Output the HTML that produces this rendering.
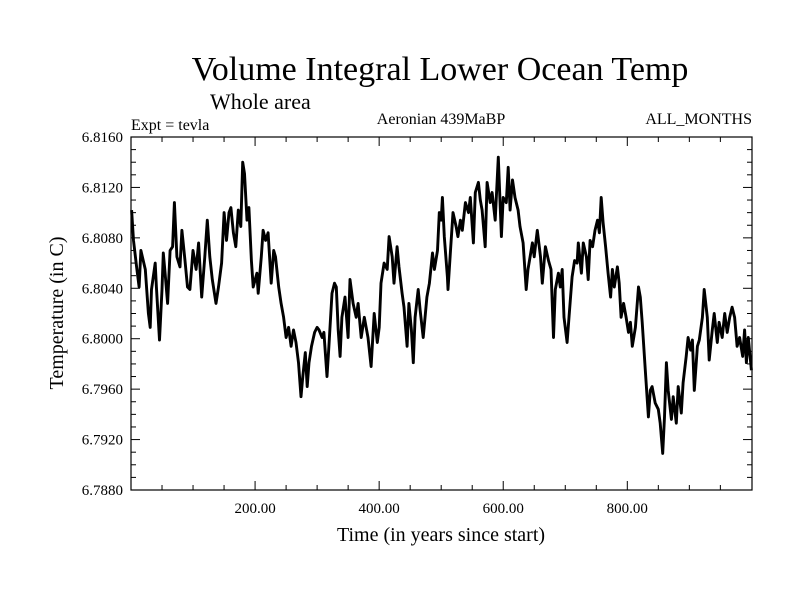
<!DOCTYPE html>
<html><head><meta charset="utf-8"><style>
body{margin:0;background:#fff}
svg text{font-family:"Liberation Serif",serif;fill:#000}
</style></head><body>
<svg id="chart" width="800" height="600" xmlns="http://www.w3.org/2000/svg">
<rect width="800" height="600" fill="#fff"/>
<text x="440" y="80" font-size="34" text-anchor="middle">Volume Integral Lower Ocean Temp</text>
<text x="210" y="109" font-size="22">Whole area</text>
<text x="131" y="130" font-size="16">Expt = tevla</text>
<text x="441" y="124" font-size="16" text-anchor="middle">Aeronian 439MaBP</text>
<text x="752" y="124" font-size="16" text-anchor="end">ALL_MONTHS</text>
<text transform="translate(63,313) rotate(-90)" font-size="20" text-anchor="middle">Temperature (in C)</text>
<text x="441" y="541" font-size="20" text-anchor="middle">Time (in years since start)</text>
<g id="axes"></g>
<path id="series" fill="none" stroke="#000" stroke-width="2.9" stroke-linejoin="round"/>
</svg>
<script>
const years=[1,4,9,13,16,23,28,31,33,39,41,46,50,52,55,59,63,67,70,74,79,82,87,91,95,100,105,109,114,119,123,127,131,137,141,146,150,154,158,161,165,169,173,177,180,183,187,190,194,197,203,205,210,213,217,221,226,230,233,238,242,246,250,254,258,262,266,270,274,277,281,284,287,291,296,300,303,308,311,316,319,324,328,331,334,337,340,345,350,353,358,363,366,371,376,382,387,392,397,400,403,408,413,416,421,424,429,432,437,440,445,448,452,455,458,463,466,471,477,481,486,489,494,497,500,502,505,510,511,515,519,524,527,531,534,539,544,547,552,555,560,563,566,571,574,579,582,587,592,597,600,605,608,611,615,619,624,627,632,637,640,647,650,655,660,663,668,673,677,681,684,689,692,695,698,703,706,711,715,719,721,726,729,734,737,740,744,748,752,755,758,761,765,769,773,776,779,784,787,790,794,798,802,805,808,813,818,821,824,829,834,837,840,845,850,853,857,860,863,866,871,874,879,882,887,890,895,898,902,905,908,913,916,921,924,929,932,937,940,945,948,953,957,961,965,969,973,977,981,986,989,992,995,1000];
const temps=[6.8102,6.8078,6.8057,6.8041,6.8070,6.8055,6.8020,6.8009,6.8039,6.8060,6.8041,6.7999,6.8039,6.8068,6.8052,6.8028,6.8070,6.8073,6.8108,6.8065,6.8057,6.8086,6.8062,6.8041,6.8039,6.8070,6.8055,6.8076,6.8033,6.8065,6.8094,6.8065,6.8047,6.8028,6.8041,6.8060,6.8100,6.8078,6.8100,6.8104,6.8084,6.8073,6.8102,6.8089,6.8140,6.8131,6.8094,6.8104,6.8062,6.8041,6.8052,6.8036,6.8065,6.8086,6.8078,6.8084,6.8044,6.8070,6.8065,6.8041,6.8028,6.8017,6.8001,6.8009,6.7994,6.8007,6.7997,6.7981,6.7954,6.7970,6.7989,6.7962,6.7981,6.7994,6.8005,6.8009,6.8007,6.8001,6.8005,6.7970,6.7994,6.8036,6.8044,6.8041,6.8007,6.7986,6.8017,6.8033,6.8001,6.8047,6.8028,6.8017,6.8028,6.8001,6.8017,6.8001,6.7978,6.8020,6.7997,6.8009,6.8044,6.8060,6.8055,6.8081,6.8065,6.8044,6.8073,6.8057,6.8036,6.8025,6.7994,6.8028,6.8007,6.7981,6.8017,6.8039,6.8023,6.8001,6.8033,6.8044,6.8068,6.8055,6.8070,6.8100,6.8094,6.8112,6.8081,6.8049,6.8039,6.8070,6.8100,6.8089,6.8081,6.8094,6.8086,6.8108,6.8100,6.8112,6.8076,6.8116,6.8124,6.8110,6.8102,6.8073,6.8124,6.8108,6.8116,6.8094,6.8144,6.8081,6.8112,6.8108,6.8136,6.8102,6.8126,6.8112,6.8102,6.8089,6.8076,6.8039,6.8055,6.8076,6.8065,6.8086,6.8065,6.8044,6.8073,6.8062,6.8055,6.8001,6.8039,6.8052,6.8041,6.8055,6.8017,6.7997,6.8017,6.8049,6.8062,6.8060,6.8076,6.8052,6.8076,6.8065,6.8047,6.8078,6.8073,6.8086,6.8094,6.8084,6.8112,6.8092,6.8073,6.8052,6.8033,6.8055,6.8041,6.8057,6.8044,6.8017,6.8028,6.8017,6.8005,6.8013,6.7994,6.8009,6.8041,6.8033,6.8013,6.7975,6.7938,6.7959,6.7962,6.7949,6.7944,6.7933,6.7909,6.7938,6.7981,6.7959,6.7936,6.7954,6.7933,6.7962,6.7941,6.7965,6.7986,6.8001,6.7991,6.7999,6.7959,6.7994,6.7999,6.8017,6.8039,6.8017,6.7983,6.8007,6.8020,6.7997,6.8013,6.8001,6.8020,6.8005,6.8017,6.8025,6.8017,6.7994,6.8001,6.7986,6.8007,6.7981,6.8001,6.7975];
const yTickLabels=["6.7880","6.7920","6.7960","6.8000","6.8040","6.8080","6.8120","6.8160"];
const xTickLabels=["200.00","400.00","600.00","800.00"];

const L=131,R=752,T=137,B=490,X0=0,X1=1001,Y0=6.788,Y1=6.816;
const sx=v=>L+(v-X0)/(X1-X0)*(R-L);
const sy=v=>B-(v-Y0)/(Y1-Y0)*(B-T);
const NS="http://www.w3.org/2000/svg";
const axes=document.getElementById('axes');
function mk(tag,attrs){const e=document.createElementNS(NS,tag);for(const k in attrs)e.setAttribute(k,attrs[k]);axes.appendChild(e);return e;}
const frame=mk('rect',{x:L,y:T,width:R-L,height:B-T,fill:'none',stroke:'#000','stroke-width':1.2});


for(let i=0;i<=28;i++){
  const v=Y0+i*0.001,y=sy(v),len=(i%4===0)?9:5;
  const t1=mk('line',{x1:L,x2:L+len,y1:y,y2:y,stroke:'#000','stroke-width':1});
  
  
  const t2=mk('line',{x1:R,x2:R-len,y1:y,y2:y,stroke:'#000','stroke-width':1});
  
  
}
yTickLabels.forEach(s=>{
  const t=mk('text',{x:123,y:sy(parseFloat(s))+5,'font-size':15,'text-anchor':'end'});
  t.textContent=s;
  
  
});
for(let v=50;v<1000;v+=50){
  const x=sx(v),len=(v%200===0)?9:5;
  const t1=mk('line',{x1:x,x2:x,y1:B,y2:B-len,stroke:'#000','stroke-width':1});
  
  
  const t2=mk('line',{x1:x,x2:x,y1:T,y2:T+len,stroke:'#000','stroke-width':1});
  
  
}
xTickLabels.forEach(s=>{
  const t=mk('text',{x:sx(parseFloat(s)),y:513,'font-size':15,'text-anchor':'middle'});
  t.textContent=s;
  
  
});
let d='';
years.forEach((yr,i)=>{d+=(i?'L':'M')+sx(yr).toFixed(1)+','+sy(temps[i]).toFixed(1);});
document.getElementById('series').setAttribute('d',d);
</script>
</body></html>
